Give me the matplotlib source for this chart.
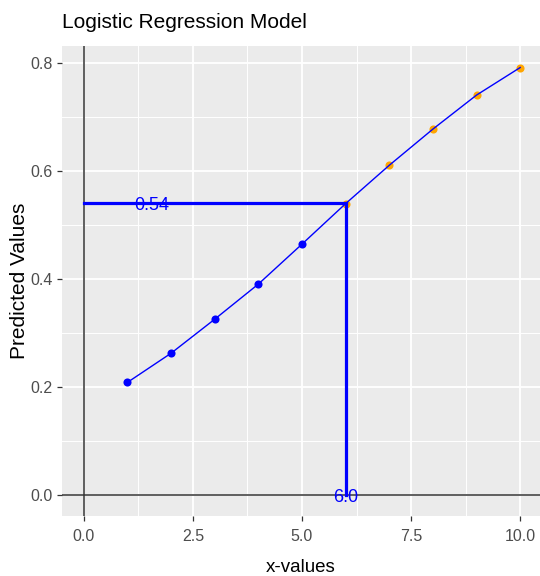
import matplotlib
matplotlib.use("Agg")
import matplotlib.pyplot as plt
from matplotlib.ticker import MultipleLocator

# ---- data ----
x_vals = [1, 2, 3, 4, 5, 6, 7, 8, 9, 10]
predicted = [0.208, 0.262, 0.325, 0.390, 0.464, 0.539, 0.610, 0.677, 0.740, 0.791]
train_x = x_vals[:5]
train_y = predicted[:5]
test_x = x_vals[5:]
test_y = predicted[5:]
query_x = 6.0
query_y = 0.54
x_ticks = [0.0, 2.5, 5.0, 7.5, 10.0]
y_ticks = [0.0, 0.2, 0.4, 0.6, 0.8]
title = "Logistic Regression Model"
xlabel = "x-values"
ylabel = "Predicted Values"

FAM = ["Liberation Sans", "DejaVu Sans"]

W, H = 540, 576
fig = plt.figure(figsize=(W / 100, H / 100), dpi=100, facecolor="white")
left_px, right_px, top_px, bot_px = 62, 542, 46.2, 516.1
ax = fig.add_axes([left_px / W, 1 - bot_px / H, (right_px - left_px) / W, (bot_px - top_px) / H])
ax.set_facecolor("#EBEBEB")
for s in ax.spines.values():
    s.set_visible(False)

ax.set_xlim(-0.5, 10.5)
ax.set_ylim(-0.0396, 0.8305)
ax.set_xticks(x_ticks)
ax.set_yticks(y_ticks)
ax.set_xticklabels([f"{v:.1f}" for v in x_ticks])
ax.set_yticklabels([f"{v:.1f}" for v in y_ticks])
ax.xaxis.set_minor_locator(MultipleLocator(1.25))
ax.yaxis.set_minor_locator(MultipleLocator(0.1))
ax.grid(which="major", color="white", linewidth=1.3)
ax.grid(which="minor", color="white", linewidth=0.7)
ax.set_axisbelow(True)
ax.tick_params(which="major", length=3.5, width=0.9, color="#333333", labelcolor="#4D4D4D",
               labelsize=11.5, pad=3)
ax.tick_params(axis="x", pad=6)
ax.tick_params(which="minor", length=0)
for lab in ax.get_xticklabels() + ax.get_yticklabels():
    lab.set_family(FAM)

# reference lines
ax.axvline(0, color="#333333", linewidth=1.1, zorder=2)
ax.axhline(0, color="#333333", linewidth=1.1, zorder=2)

# points
ax.scatter(train_x, train_y, s=34, color="blue", zorder=3, linewidths=0)
ax.scatter(test_x, test_y, s=34, color="orange", zorder=3, linewidths=0)
# fitted line
ax.plot(x_vals, predicted, color="blue", linewidth=1.0, zorder=4)
# query segments
ax.plot([0, query_x], [query_y, query_y], color="blue", linewidth=2.3, zorder=5)
ax.plot([query_x, query_x], [0, query_y], color="blue", linewidth=2.3, zorder=5)
ax.annotate(f"{query_y:.2f}", (1.56, query_y), xytext=(0, -2), textcoords="offset points",
            ha="center", va="center", color="blue", fontsize=13, family=FAM, zorder=6)
ax.annotate(f"{query_x:.1f}", (query_x, 0), xytext=(0, -2), textcoords="offset points",
            ha="center", va="center", color="blue", fontsize=13, family=FAM, zorder=6)

fig.text(62 / W, 1 - 28 / H, title, fontsize=15, family=FAM, color="black", va="baseline", ha="left")
fig.text(((left_px + right_px) / 2 - 1) / W, 1 - 572 / H, xlabel, fontsize=13.5, family=FAM,
         color="black", va="baseline", ha="center")
fig.text(20 / W, 1 - ((top_px + bot_px) / 2) / H, ylabel, fontsize=15, family=FAM, rotation=90,
         color="black", va="center", ha="center")

fig.savefig("out.png", dpi=100, facecolor="white")
